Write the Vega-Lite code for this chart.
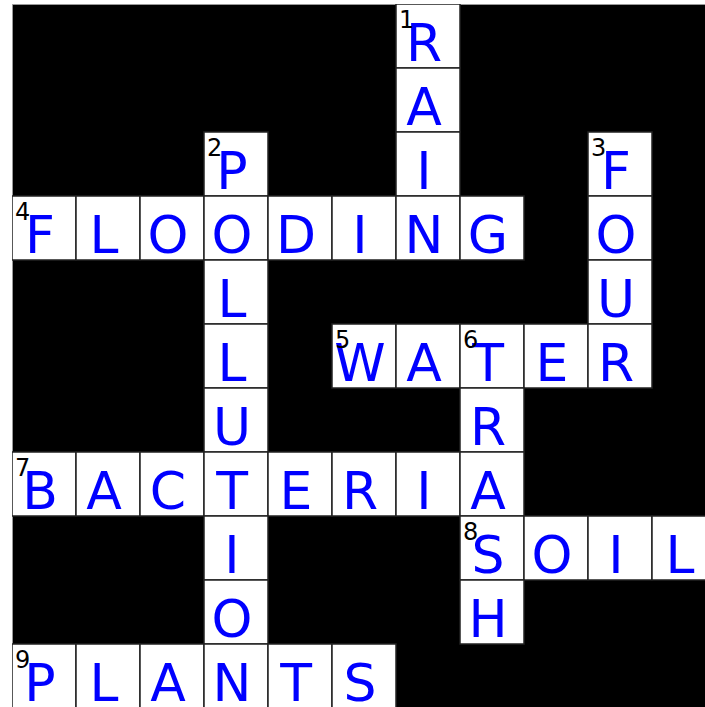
{
  "$schema": "https://vega.github.io/schema/vega-lite/v6.json",
  "autosize": {"type": "none"},
  "padding": {"left": 12, "top": 4, "right": 0, "bottom": 0},
  "width": 693,
  "height": 703,
  "background": "white",
  "view": {"fill": "black", "stroke": "#999999", "strokeWidth": 1},
  "config": {"font": "DejaVu Sans"},
  "data": {"values": [
    {"col": 6, "row": 0, "letter": "R", "num": "1"},
    {"col": 6, "row": 1, "letter": "A", "num": ""},
    {"col": 3, "row": 2, "letter": "P", "num": "2"},
    {"col": 6, "row": 2, "letter": "I", "num": ""},
    {"col": 9, "row": 2, "letter": "F", "num": "3"},
    {"col": 0, "row": 3, "letter": "F", "num": "4"},
    {"col": 1, "row": 3, "letter": "L", "num": ""},
    {"col": 2, "row": 3, "letter": "O", "num": ""},
    {"col": 3, "row": 3, "letter": "O", "num": ""},
    {"col": 4, "row": 3, "letter": "D", "num": ""},
    {"col": 5, "row": 3, "letter": "I", "num": ""},
    {"col": 6, "row": 3, "letter": "N", "num": ""},
    {"col": 7, "row": 3, "letter": "G", "num": ""},
    {"col": 9, "row": 3, "letter": "O", "num": ""},
    {"col": 3, "row": 4, "letter": "L", "num": ""},
    {"col": 9, "row": 4, "letter": "U", "num": ""},
    {"col": 3, "row": 5, "letter": "L", "num": ""},
    {"col": 5, "row": 5, "letter": "W", "num": "5"},
    {"col": 6, "row": 5, "letter": "A", "num": ""},
    {"col": 7, "row": 5, "letter": "T", "num": "6"},
    {"col": 8, "row": 5, "letter": "E", "num": ""},
    {"col": 9, "row": 5, "letter": "R", "num": ""},
    {"col": 3, "row": 6, "letter": "U", "num": ""},
    {"col": 7, "row": 6, "letter": "R", "num": ""},
    {"col": 0, "row": 7, "letter": "B", "num": "7"},
    {"col": 1, "row": 7, "letter": "A", "num": ""},
    {"col": 2, "row": 7, "letter": "C", "num": ""},
    {"col": 3, "row": 7, "letter": "T", "num": ""},
    {"col": 4, "row": 7, "letter": "E", "num": ""},
    {"col": 5, "row": 7, "letter": "R", "num": ""},
    {"col": 6, "row": 7, "letter": "I", "num": ""},
    {"col": 7, "row": 7, "letter": "A", "num": ""},
    {"col": 3, "row": 8, "letter": "I", "num": ""},
    {"col": 7, "row": 8, "letter": "S", "num": "8"},
    {"col": 8, "row": 8, "letter": "O", "num": ""},
    {"col": 9, "row": 8, "letter": "I", "num": ""},
    {"col": 10, "row": 8, "letter": "L", "num": ""},
    {"col": 3, "row": 9, "letter": "O", "num": ""},
    {"col": 7, "row": 9, "letter": "H", "num": ""},
    {"col": 0, "row": 10, "letter": "P", "num": "9"},
    {"col": 1, "row": 10, "letter": "L", "num": ""},
    {"col": 2, "row": 10, "letter": "A", "num": ""},
    {"col": 3, "row": 10, "letter": "N", "num": ""},
    {"col": 4, "row": 10, "letter": "T", "num": ""},
    {"col": 5, "row": 10, "letter": "S", "num": ""}
  ]},
  "encoding": {
    "x": {"field": "col", "type": "ordinal", "axis": null,
          "scale": {"domain": [0,1,2,3,4,5,6,7,8,9,10], "range": [0, 704], "paddingInner": 0, "paddingOuter": 0}},
    "y": {"field": "row", "type": "ordinal", "axis": null,
          "scale": {"domain": [0,1,2,3,4,5,6,7,8,9,10], "range": [0, 704], "paddingInner": 0, "paddingOuter": 0}}
  },
  "layer": [
    {"mark": {"type": "rect", "fill": "white", "stroke": "#222222", "strokeWidth": 1.5, "clip": true}},
    {"mark": {"type": "text", "color": "#0000ff", "fontSize": 52, "align": "center", "baseline": "alphabetic", "dx": -4, "dy": -7, "clip": true},
     "encoding": {"text": {"field": "letter"}, "y": {"field": "row", "type": "ordinal", "bandPosition": 1}}},
    {"mark": {"type": "text", "color": "black", "fontSize": 24, "align": "left", "baseline": "top", "dx": 3, "dy": 5, "clip": true},
     "encoding": {"text": {"field": "num"},
                  "x": {"field": "col", "type": "ordinal", "bandPosition": 0},
                  "y": {"field": "row", "type": "ordinal", "bandPosition": 0}}}
  ]
}
